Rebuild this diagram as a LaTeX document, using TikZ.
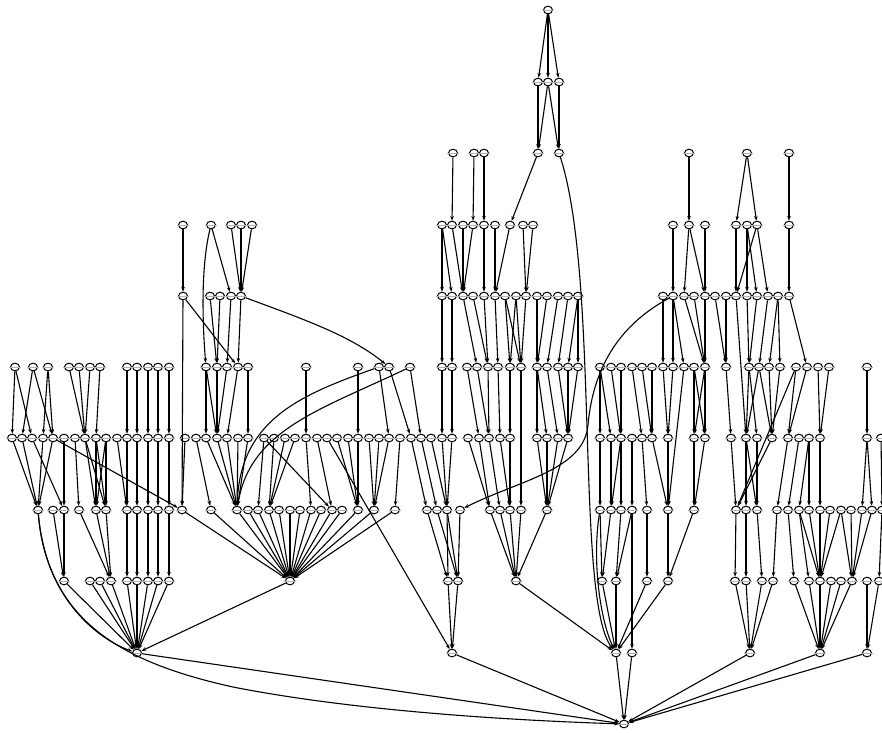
\documentclass[tikz,border=0pt]{standalone}
\usetikzlibrary{arrows.meta,shapes.geometric}
\tikzset{
  v/.style={ellipse, draw=black, fill=white, inner sep=0pt, minimum width=9pt, minimum height=7.6pt, line width=1pt},
  tick/.style={draw=gray!60, line width=0.6pt},
  e/.style={draw=black, line width=1.1pt, -{Stealth[length=4.8pt,width=3.6pt]}}
}
\newcommand\mkrow[3]{\foreach \x in {#3}{\node[v] (r#1-\x) at (\x,#2) {}; \draw[tick] (\x-6,#2) -- (\x+6,#2);}}
\newcommand\edges[3]{\foreach \a/\b in {#3}{\draw[e] (r#1-\a) -- (r#2-\b);}}
\begin{document}
\begin{tikzpicture}[x=1pt,y=-1pt]
\useasboundingbox (0,0) rectangle (882,732);
\mkrow{0}{10}{548}
\mkrow{1}{82}{538,548,559}
\mkrow{2}{153}{453,474,484,538,559,689,747,789}
\mkrow{3}{225}{183,211,231,241,252,442,452,463,473,484,495,510,523,533,673,689,705,736,747,757,789}
\mkrow{4}{296}{183,210,220,231,241,442,452,463,473,484,495,505,516,526,537,547,558,568,578,663,673,684,694,705,715,726,736,747,757,768,778,789}
\mkrow{5}{367}{15,33,48,69,79,90,100,127,137,148,158,169,206,217,227,238,248,306,358,379,389,410,442,452,467,477,488,498,510,521,537,547,558,568,578,600,611,621,632,642,652,663,673,684,694,705,726,749,759,769,780,796,807,818,829,867}
\mkrow{6}{438}{12,22,32,43,53,64,75,85,96,106,117,127,137,148,158,169,185,196,206,217,227,238,248,264,274,285,295,306,317,327,337,348,358,369,379,389,400,411,421,431,442,452,468,479,489,500,510,537,547,558,568,600,611,621,632,642,652,668,694,705,731,746,757,772,788,799,809,820,867,881}
\mkrow{7}{510}{38,53,64,79,96,106,127,137,148,158,169,182,211,237,248,258,269,279,290,300,311,321,332,342,358,374,395,427,437,447,460,490,500,510,521,547,600,611,621,632,647,668,694,736,746,757,777,788,799,809,820,830,841,851,862,872,882}
\mkrow{8}{581}{64,90,100,111,127,137,148,158,169,290,448,458,516,602,616,647,668,735,746,762,773,794,809,820,831,841,852,867,879}
\mkrow{9}{653}{137,452,616,632,750,820,867}
\mkrow{10}{724}{624}

\edges{0}{1}{548/538,548/548,548/559}
\edges{1}{2}{538/538,548/538,548/559,559/559}
\edges{2}{3}{453/452,474/473,484/484,538/510,689/689,747/736,747/757,789/789}
\edges{3}{4}{183/183,211/231,231/241,241/241,252/241,442/442,442/452,452/463,463/463,473/463,484/484,495/495,510/495,523/526,533/526,673/673,689/684,689/705,705/705,736/736,747/747,747/757,757/736,757/768,789/789}
\edges{4}{5}{183/238,210/217,220/217,231/227,241/238,442/442,452/452,463/477,473/488,484/488,495/498,505/510,505/521,516/510,516/521,526/521,537/537,547/537,558/547,568/558,578/568,578/578,663/663,673/673,673/684,684/705,694/705,705/705,715/726,726/726,747/749,757/749,768/759,778/769,778/780,789/807}
\edges{5}{6}{15/12,15/32,33/22,33/53,48/43,48/53,69/85,79/85,90/85,100/96,127/127,137/137,148/148,158/158,169/169,206/206,206/217,217/217,227/217,238/227,248/248,306/306,358/358,379/389,389/411,410/421,442/442,452/452,467/479,477/489,488/489,498/500,510/510,537/537,537/547,547/558,558/568,568/568,578/568,600/600,600/611,611/621,621/621,632/642,642/652,652/652,663/668,673/668,694/694,694/705,705/694,705/705,726/731,749/746,749/757,759/746,759/772,769/772,780/772,796/788,807/788,818/820,829/820,867/867}
\edges{6}{7}{12/38,22/38,32/64,43/38,53/38,53/182,64/64,75/79,85/96,85/106,96/96,96/106,106/96,106/106,117/127,127/127,137/137,148/148,158/158,169/169,185/182,196/211,206/237,217/237,227/237,238/237,248/237,264/258,264/332,274/269,285/269,295/269,306/311,317/332,337/358,348/358,358/358,369/374,379/374,389/374,400/395,411/427,421/437,431/447,442/447,452/447,468/490,479/490,489/500,500/510,510/510,537/547,547/547,558/547,568/547,600/600,611/611,621/611,621/621,632/632,642/647,652/668,668/668,694/694,705/694,731/736,746/746,746/757,757/757,772/736,788/777,799/788,809/799,809/809,820/820,867/862,867/872,881/882}
\edges{7}{8}{53/64,64/64,79/111,96/111,106/111,127/127,137/137,148/148,158/158,169/169,182/290,211/290,237/290,248/290,258/290,269/290,279/290,290/290,300/290,311/290,321/290,332/290,342/290,358/290,374/290,395/290,427/448,437/458,447/448,447/458,460/458,490/516,500/516,510/516,521/516,547/516,600/602,611/602,621/616,632/616,647/647,668/668,694/668,736/735,746/746,757/762,777/773,788/794,799/809,799/820,809/820,820/820,830/820,841/820,841/852,851/852,862/852,872/852,882/879}
\edges{8}{9}{64/137,90/137,100/137,111/137,127/137,137/137,148/137,158/137,169/137,290/137,448/452,458/452,516/616,602/616,616/616,647/616,668/616,735/750,746/750,762/750,773/750,794/820,809/820,820/820,831/820,841/820,852/820,867/867,879/867}
\edges{9}{10}{137/624,452/624,616/624,632/624,750/624,820/624,867/624}

% long straight edges
\draw[e] (r6-327) -- (r9-452);
\draw[e] (r7-632) -- (r9-632);
\draw[e] (r5-796) -- (r7-736);
\draw[e] (r5-684) -- (r7-668);
\draw[e] (r4-736) -- (r6-746);
\draw[e] (r5-521) -- (r7-521);
\draw[e] (r4-183) -- (r7-182);
% long curved edges
\draw[e] (r3-211) .. controls (200,270) and (203,330) .. (r5-206);
\draw[e] (r4-241) .. controls (300,318) and (350,335) .. (r5-389);
\draw[e] (r5-379) .. controls (300,395) and (240,420) .. (r7-237);
\draw[e] (r5-410) .. controls (320,410) and (250,430) .. (r7-237);
\draw[e] (r2-559) .. controls (600,280) and (575,600) .. (r9-616);
\draw[e] (r4-673) .. controls (610,330) and (592,380) .. (588,425) .. controls (584,470) and (520,480) .. (r7-460);
\draw[e] (r7-38) .. controls (45,600) and (100,640) .. (r9-137);
\draw[e] (r7-38) .. controls (48,620) and (120,662) .. (233,687) .. controls (350,710) and (500,720) .. (r10-624);
\draw[e] (r7-600) .. controls (592,560) and (600,620) .. (r9-616);
\end{tikzpicture}
\end{document}
